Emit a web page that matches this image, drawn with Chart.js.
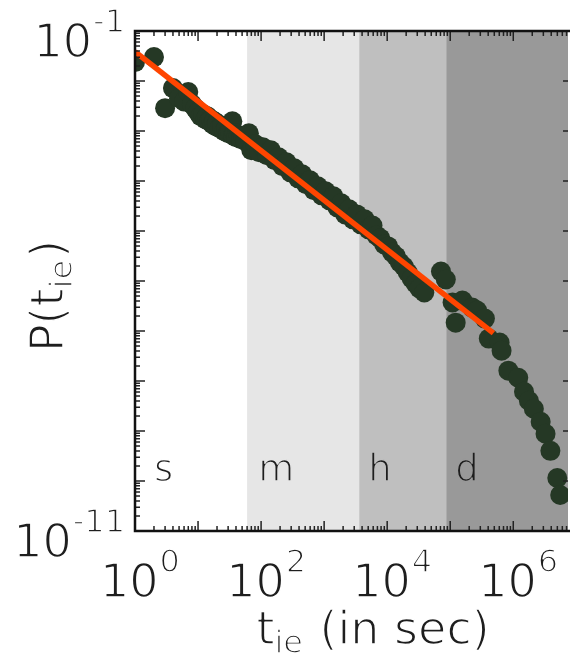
<!DOCTYPE html>
<html>
<head>
<meta charset="utf-8">
<script src="https://cdn.jsdelivr.net/npm/chart.js@4/dist/chart.umd.min.js"></script>
<style>
  html, body { margin: 0; padding: 0; background: #fff; }
  canvas { display: block; }
</style>
</head>
<body>
<canvas id="plot_tie" width="578" height="655"></canvas>
<script>
// inter-event times t_ie (sec) and P(t_ie)
const tie_x = [
  1, 2, 3, 4, 5, 6, 7, 8, 9, 10,
  11, 12, 13, 14, 15, 16, 17, 18, 19, 20, 22, 24, 26, 28, 30, 32, 35, 36, 38, 40, 44, 48, 52, 56, 64,
  70, 81, 93, 107, 124, 143, 165, 190, 219, 253,
  292, 337, 388, 448, 517, 596, 688, 793, 915, 1055,
  1217, 1403, 1619, 1867, 2154, 2485, 2866, 3306, 3813, 4398,
  5073, 5851, 6750, 7785, 8980, 10370, 11960, 13800, 15920, 18360,
  21180, 24430, 28180, 32500, 38820,
  7.13e4, 8.51e4, 1.09e5, 1.22e5, 1.56e5, 2.23e5, 2.67e5, 3.55e5, 4.09e5, 6.07e5,
  6.52e5, 8.36e5, 1.20e6, 1.48e6, 1.77e6, 2.12e6, 2.72e6, 3.25e6, 3.88e6, 4.99e6, 5.55e6
];
const tie_p = [
  2.39e-2, 3.01e-2, 2.86e-3, 7.21e-3, 4.54e-3, 3.9e-3, 6.0e-3, 3.44e-3, 2.86e-3, 2.38e-3,
  1.98e-3, 2.17e-3, 1.72e-3, 1.98e-3, 1.57e-3, 1.72e-3, 1.37e-3, 1.57e-3, 1.25e-3, 1.43e-3,
  1.14e-3, 1.25e-3, 9.9e-4, 1.14e-3, 9.0e-4, 9.9e-4, 1.57e-3, 8.2e-4, 9.0e-4, 7.5e-4,
  8.2e-4, 6.9e-4, 7.9e-4, 6.3e-4, 9.0e-4,
  4.12e-4, 5.43e-4, 3.76e-4, 4.73e-4, 3.27e-4, 4.12e-4, 2.60e-4, 2.99e-4, 1.97e-4, 2.37e-4,
  1.49e-4, 1.80e-4, 1.13e-4, 1.36e-4, 8.59e-5, 1.03e-4, 6.52e-5, 7.83e-5, 5.16e-5, 6.22e-5,
  4.10e-5, 4.93e-5, 2.97e-5, 3.57e-5, 2.15e-5, 2.71e-5, 1.71e-5, 2.15e-5, 1.36e-5, 1.71e-5,
  1.08e-5, 1.29e-5, 8.17e-6, 7.11e-6, 5.38e-6, 4.91e-6, 3.72e-6, 3.10e-6, 2.35e-6, 1.95e-6,
  1.48e-6, 1.12e-6, 8.91e-7, 7.08e-7, 5.89e-7,
  1.55e-6, 1.07e-6, 3.71e-7, 1.47e-7, 4.06e-7, 2.94e-7, 2.56e-7, 1.77e-7, 7.05e-8, 5.86e-8,
  4.05e-8, 1.61e-8, 1.16e-8, 6.11e-9, 4.03e-9, 2.79e-9, 1.53e-9, 8.79e-10, 4.01e-10, 1.15e-10, 5.26e-11
];

// power-law fit (end points)
const fit_x = [1, 4.84e5];
const fit_p = [3.85e-2, 9.1e-8];

// periods: second / minute / hour / day
const band_edges = [60, 3600, 86400];
const band_labels = ['s', 'm', 'h', 'd'];
const band_label_x = [2, 90, 5000, 1.2e5];
const band_label_y = 1e-10;

const x_min = 1, x_max = 7.38e6;
const y_min = 1e-11, y_max = 1e-1;
const x_label_exps = [0, 2, 4, 6];
const y_label_exps = [-1, -11];

function createData(xValues, yValues) {
    return xValues.map((x, i) => ({ x: x, y: yValues[i] }));
}

const FONT = '"DejaVu Sans", "Liberation Sans", sans-serif';
const TXT = '#1e1e1e';
const bandFill = ['rgb(230,230,230)', 'rgb(191,191,191)', 'rgb(153,153,153)'];

// the figure uses a light face: fill, then shave the outline with the background colour
function thinText(ctx, s, x, y, bg) {
    ctx.fillText(s, x, y);
    ctx.save();
    ctx.strokeStyle = bg || '#ffffff';
    ctx.lineWidth = 1.5;
    ctx.lineJoin = 'round';
    ctx.strokeText(s, x, y);
    ctx.restore();
}

function powLabel(ctx, exp, x, base, align) {
    ctx.font = '46px ' + FONT;
    const wb = ctx.measureText('10').width;
    ctx.font = '32px ' + FONT;
    const es = String(exp);
    const we = ctx.measureText(es).width;
    const w = wb + we + 1;
    const x0 = align === 'right' ? x - w : x - w / 2;
    ctx.font = '46px ' + FONT;
    thinText(ctx, '10', x0, base);
    ctx.font = '32px ' + FONT;
    thinText(ctx, es, x0 + wb + 1, base - 25);
}

// main text, subscript, rest; centred on cx
function subTitle(ctx, parts, cx, base) {
    ctx.font = '46px ' + FONT;
    const w1 = ctx.measureText(parts[0]).width;
    const w3 = ctx.measureText(parts[2]).width;
    ctx.font = '32px ' + FONT;
    const w2 = ctx.measureText(parts[1]).width + 2;
    const x0 = cx - (w1 + w2 + w3) / 2;
    ctx.font = '46px ' + FONT;
    thinText(ctx, parts[0], x0, base);
    ctx.font = '32px ' + FONT;
    thinText(ctx, parts[1], x0 + w1, base + 9);
    ctx.font = '46px ' + FONT;
    thinText(ctx, parts[2], x0 + w1 + w2, base);
}

const decor = {
    id: 'decor',
    beforeDraw(chart) {
        const ctx = chart.ctx;
        ctx.save();
        ctx.fillStyle = '#ffffff';
        ctx.fillRect(0, 0, chart.width, chart.height);
        ctx.restore();
    },
    beforeDatasetsDraw(chart) {
        const { ctx, chartArea: a, scales: { x, y } } = chart;
        const edges = band_edges.concat([x_max]);
        ctx.save();
        for (let i = 0; i < band_edges.length; i++) {
            const x0 = x.getPixelForValue(edges[i]);
            const x1 = x.getPixelForValue(edges[i + 1]);
            ctx.fillStyle = bandFill[i];
            ctx.fillRect(x0, a.top, x1 - x0, a.bottom - a.top);
        }
        ctx.fillStyle = TXT;
        ctx.font = '37px ' + FONT;
        ctx.textAlign = 'left';
        ctx.textBaseline = 'alphabetic';
        const bg = ['#ffffff'].concat(bandFill);
        band_labels.forEach((t, i) => {
            thinText(ctx, t, x.getPixelForValue(band_label_x[i]), y.getPixelForValue(band_label_y), bg[i]);
        });
        ctx.restore();
    },
    afterDatasetsDraw(chart) {
        const { ctx, chartArea: a, scales: { x, y } } = chart;
        ctx.save();
        // inward ticks
        ctx.strokeStyle = '#222';
        ctx.lineWidth = 1.5;
        ctx.beginPath();
        for (let e = 0; e <= 7; e++) {
            for (let m = 1; m <= 9; m++) {
                const v = m * Math.pow(10, e);
                if (v > x_max) break;
                const px = x.getPixelForValue(v);
                const len = m === 1 ? 10 : 5;
                ctx.moveTo(px, a.bottom); ctx.lineTo(px, a.bottom - len);
                ctx.moveTo(px, a.top); ctx.lineTo(px, a.top + len);
            }
        }
        for (let e = -11; e <= -1; e++) {
            for (let m = 1; m <= 9; m++) {
                const v = m * Math.pow(10, e);
                if (v > y_max * 1.0001) break;
                const py = y.getPixelForValue(v);
                const len = m === 1 ? 10 : 5;
                ctx.moveTo(a.left, py); ctx.lineTo(a.left + len, py);
                if (m === 1) { ctx.moveTo(a.right, py); ctx.lineTo(a.right - 5, py); }
            }
        }
        ctx.stroke();
        // spines
        ctx.strokeStyle = '#111';
        ctx.lineWidth = 2.5;
        ctx.beginPath();
        ctx.moveTo(a.right + 2, a.top); ctx.lineTo(a.left, a.top);
        ctx.lineTo(a.left, a.bottom); ctx.lineTo(a.right + 2, a.bottom);
        ctx.stroke();
        // tick labels
        ctx.fillStyle = TXT;
        ctx.textAlign = 'left';
        ctx.textBaseline = 'alphabetic';
        x_label_exps.forEach(e => powLabel(ctx, e, x.getPixelForValue(Math.pow(10, e)) + 5, a.bottom + 66, 'center'));
        y_label_exps.forEach(e => powLabel(ctx, e, 125, y.getPixelForValue(Math.pow(10, e)) + 26, 'right'));
        // axis titles
        subTitle(ctx, ['t', 'ie', ' (in sec)'], 373, 644);
        ctx.translate(63, 296);
        ctx.rotate(-Math.PI / 2);
        subTitle(ctx, ['P(t', 'ie', ')'], 0, 0);
        ctx.restore();
    }
};

const ctx1 = document.getElementById('plot_tie').getContext('2d');

const plot_tie = new Chart(ctx1, {
    type: 'scatter',
    data: {
        datasets: [{
            label: 'fit',
            type: 'line',
            data: createData(fit_x, fit_p),
            borderColor: '#ff4500',
            borderWidth: 5.5,
            pointRadius: 0,
            fill: false,
            order: 0,
            clip: 0,
        }, {
            label: 'P(t_ie)',
            data: createData(tie_x, tie_p),
            backgroundColor: 'rgb(37,56,37)',
            borderWidth: 0,
            pointRadius: 10,
            pointHoverRadius: 10,
            order: 1,
            clip: 0,
        }],
    },
    options: {
        responsive: false,
        animation: false,
        devicePixelRatio: 1,
        events: [],
        layout: { padding: { left: 135, top: 31, right: 0, bottom: 124 } },
        scales: {
            x: { type: 'logarithmic', min: x_min, max: x_max, display: false },
            y: { type: 'logarithmic', min: y_min, max: y_max, display: false }
        },
        plugins: {
            legend: { display: false },
            tooltip: { enabled: false }
        }
    },
    plugins: [decor]
});
</script>
</body>
</html>
